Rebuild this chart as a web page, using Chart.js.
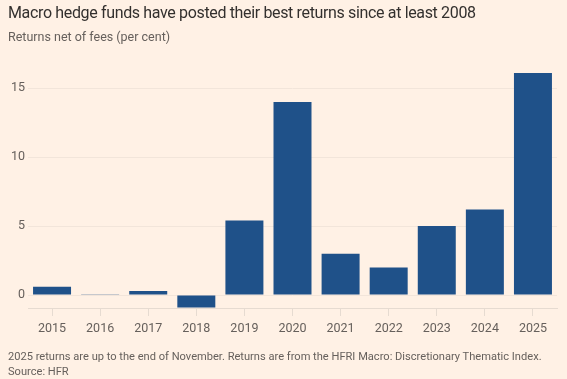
<!DOCTYPE html>
<html>
<head>
<meta charset="utf-8">
<script src="https://cdn.jsdelivr.net/npm/chart.js@4"></script>
<style>
  html, body { margin: 0; padding: 0; background: #fff1e5; }
  #wrap { position: relative; width: 567px; height: 379px; overflow: hidden; font-family: "Roboto", "Liberation Sans", sans-serif; }
  #c { position: absolute; left: 0; top: 0; }
  .t { position: absolute; left: 8px; white-space: nowrap; }
  #title { top: 3px; font-size: 16px; letter-spacing: -0.35px; color: #33302e; }
  #sub { top: 29px; font-size: 12.5px; color: #66605c; }
  #note { top: 349px; font-size: 11.1px; color: #66605c; line-height: 15px; }
</style>
</head>
<body>
<div id="wrap">
  <canvas id="c" width="567" height="379"></canvas>
  <div class="t" id="title">Macro hedge funds have posted their best returns since at least 2008</div>
  <div class="t" id="sub">Returns net of fees (per cent)</div>
  <div class="t" id="note">2025 returns are up to the end of November. Returns are from the HFRI Macro: Discretionary Thematic Index.<br>Source: HFR</div>
</div>
<script>
const years = ["2015","2016","2017","2018","2019","2020","2021","2022","2023","2024","2025"];
const returns = [0.6, 0.05, 0.3, -0.9, 5.4, 14.0, 3.0, 2.0, 5.0, 6.2, 16.1];
const yTicks = [0, 5, 10, 15];

new Chart(document.getElementById('c'), {
  type: 'bar',
  data: {
    labels: years,
    datasets: [{
      data: returns,
      backgroundColor: '#1f5189',
      barPercentage: 0.79,
      categoryPercentage: 1.0
    }]
  },
  options: {
    responsive: false,
    animation: false,
    layout: { padding: { left: 0, right: 10, top: 73, bottom: 41 } },
    plugins: { legend: { display: false }, tooltip: { enabled: false } },
    scales: {
      x: {
        grid: { drawOnChartArea: false, drawTicks: true, tickLength: 8, color: '#e6dbd1', offset: false },
        border: { color: '#e6dbd1' },
        ticks: { color: '#66605c', font: { family: 'Roboto', size: 12.5 }, padding: 5 },
        afterFit: s => { s.height = 30; }
      },
      y: {
        min: -0.94,
        max: 16.1,
        grid: { color: '#f2e5da', drawTicks: false },
        border: { display: false },
        ticks: { color: '#66605c', font: { family: 'Roboto', size: 12.5 }, padding: 3 },
        afterBuildTicks: s => { s.ticks = yTicks.map(v => ({ value: v })); },
        afterFit: s => { s.width = 28; }
      }
    }
  }
});
</script>
</body>
</html>
